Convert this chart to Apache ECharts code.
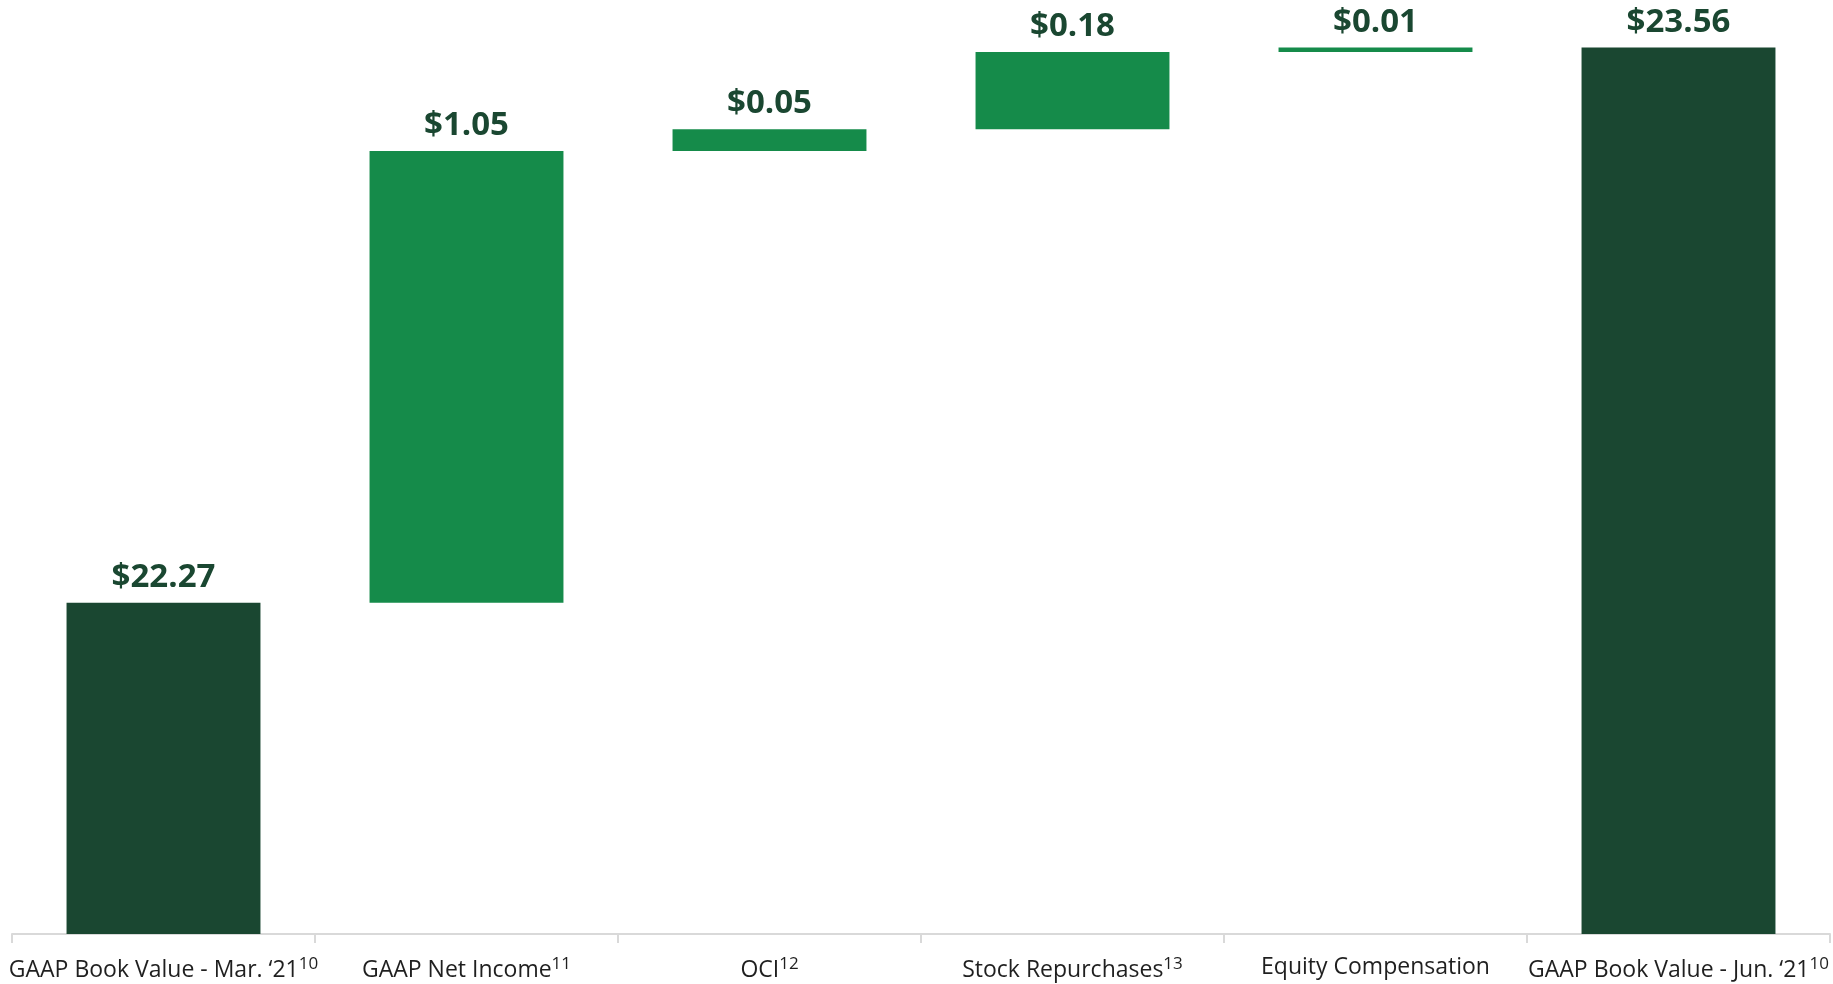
<!DOCTYPE html>
<html><head><meta charset="utf-8">
<script src="https://cdn.jsdelivr.net/npm/echarts@6/dist/echarts.min.js"></script>
<style>html,body{margin:0;padding:0;background:#fff}#c{width:1833px;height:984px}</style>
</head><body><div id="c"></div>
<script>
const categories = ["GAAP Book Value - Mar. \u201821", "GAAP Net Income", "OCI", "Stock Repurchases", "Equity Compensation", "GAAP Book Value - Jun. \u201821"];
const footnotes = ["10", "11", "12", "13", "", "10"];
const values = [22.27, 1.05, 0.05, 0.18, 0.01, 23.56];
const isTotal = [true, false, false, false, false, true];

const DARK = '#1a4731', GREEN = '#158b4a';
let run = 0;
const base = [], bars = [];
values.forEach((v, i) => {
  if (isTotal[i]) { base.push(0); run = v; bars.push({value: v, itemStyle: {color: DARK}}); }
  else { base.push(+run.toFixed(2)); run += v; bars.push({value: v, itemStyle: {color: GREEN}}); }
});

const chart = echarts.init(document.getElementById('c'));
chart.setOption({
  animation: false,
  grid: {left: 12, right: 3, top: 30.4, bottom: 50, containLabel: false, outerBoundsMode: 'none'},
  xAxis: {
    type: 'category', data: categories,
    axisLine: {lineStyle: {color: '#d9d9d9', width: 2}},
    axisTick: {show: true, length: 9, lineStyle: {color: '#d9d9d9', width: 2}},
    axisLabel: {
      interval: 0, margin: 22, hideOverlap: false,
      formatter: (val, idx) => footnotes[idx] ? `{m|${val}}{s|${footnotes[idx]}}` : `{m|${val}}`,
      rich: {
        m: {fontFamily: 'Open Sans', fontSize: 23, color: '#1f1f1f'},
        s: {fontFamily: 'Open Sans', fontSize: 17, color: '#1f1f1f', verticalAlign: 'top', padding: [0,0,11,0]}
      }
    }
  },
  yAxis: {type: 'value', min: 21.5, max: 23.6, show: false, splitLine: {show: false}},
  series: [
    {type: 'bar', stack: 'w', data: base, itemStyle: {color: 'transparent'}, barWidth: '64%', silent: true},
    {type: 'bar', stack: 'w', data: bars, barWidth: '64%',
     label: {show: true, position: 'top', distance: 9, formatter: p => '$' + p.value.toFixed(2),
       fontFamily: 'Open Sans', fontWeight: 'bold', fontSize: 33, color: DARK}}
  ]
});
</script></body></html>
